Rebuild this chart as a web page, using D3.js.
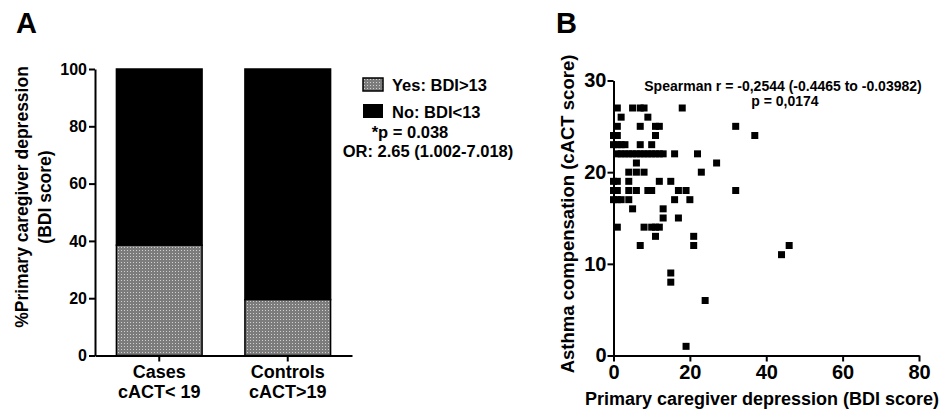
<!DOCTYPE html>
<html>
<head>
<meta charset="utf-8">
<script src="https://cdn.jsdelivr.net/npm/d3@7"></script>
<style>
  body { margin: 0; background: #fff; }
  svg { display: block; font-family: "Liberation Sans", Arial, sans-serif; font-weight: bold; }
  .axis path, .axis line { stroke: #000; stroke-width: 2; }
  .axis text { fill: #000; font-weight: bold; font-family: "Liberation Sans", Arial, sans-serif; }
</style>
</head>
<body>
<svg width="944" height="413"></svg>
<script>
// Panel A data
const groups = ["Cases", "Controls"];
const groupSub = ["cACT< 19", "cACT>19"];
const yesPct = [38.5, 19.5];
const yTicksA = [0, 20, 40, 60, 80, 100];

// Panel B data (BDI score, cACT score)
const bdi = [
  1, 5, 7, 8, 18,
  2, 9,
  1, 7, 11, 12, 32,
  0, 1, 11, 37,
  0, 1, 2, 3, 7, 10,
  1, 2, 3, 4, 5, 6, 7, 8, 9, 10, 11, 12, 13, 16, 22,
  6, 27,
  4, 6, 8, 23,
  0, 1, 4, 12, 15,
  0, 1, 4, 6, 9, 10, 17, 19, 32,
  0, 1, 2, 4, 16, 20,
  5, 13,
  13, 17,
  1, 8, 10, 11, 12,
  11, 21,
  7, 21, 46,
  44,
  15,
  15,
  24,
  19
];
const cact = [
  27, 27, 27, 27, 27,
  26, 26,
  25, 25, 25, 25, 25,
  24, 24, 24, 24,
  23, 23, 23, 23, 23, 23,
  22, 22, 22, 22, 22, 22, 22, 22, 22, 22, 22, 22, 22, 22, 22,
  21, 21,
  20, 20, 20, 20,
  19, 19, 19, 19, 19,
  18, 18, 18, 18, 18, 18, 18, 18, 18,
  17, 17, 17, 17, 17, 17,
  16, 16,
  15, 15,
  14, 14, 14, 14, 14,
  13, 13,
  12, 12, 12,
  11,
  9,
  8,
  6,
  1
];
const xTicksB = [0, 20, 40, 60, 80];
const yTicksB = [0, 10, 20, 30];

const svg = d3.select("svg");

// pattern for "Yes" fill
const defs = svg.append("defs");
const pat = defs.append("pattern")
    .attr("id", "dots")
    .attr("width", 3).attr("height", 3)
    .attr("patternUnits", "userSpaceOnUse");
pat.append("rect").attr("width", 3).attr("height", 3).attr("fill", "#7c7c7c");
pat.append("rect").attr("x", 1).attr("y", 1).attr("width", 1).attr("height", 1).attr("fill", "#d0d0d0");

// ---------- Panel A ----------
const gA = svg.append("g");

gA.append("text")
    .attr("x", 16).attr("y", 33)
    .style("font-size", "29px")
    .text("A");

const yA = d3.scaleLinear().domain([0, 100]).range([355.5, 69]);
const xA = d3.scaleBand()
    .domain(groups)
    .range([95, 352])
    .paddingInner(1 / 3)
    .paddingOuter(1 / 6);

// stacked bars
groups.forEach((g, i) => {
    gA.append("rect")
        .attr("x", xA(g))
        .attr("y", yA(100))
        .attr("width", xA.bandwidth())
        .attr("height", yA(yesPct[i]) - yA(100))
        .attr("fill", "#000")
        .attr("stroke", "#000")
        .attr("stroke-width", 1.5);
    gA.append("rect")
        .attr("x", xA(g))
        .attr("y", yA(yesPct[i]))
        .attr("width", xA.bandwidth())
        .attr("height", yA(0) - yA(yesPct[i]))
        .attr("fill", "url(#dots)")
        .attr("stroke", "#000")
        .attr("stroke-width", 1.5);
});

// axes
gA.append("g")
    .attr("class", "axis")
    .attr("transform", "translate(95,0)")
    .call(d3.axisLeft(yA).tickValues(yTicksA).tickSize(6).tickSizeOuter(0).tickPadding(2))
    .selectAll("text").style("font-size", "16px");

gA.append("g")
    .attr("class", "axis")
    .attr("transform", `translate(0,${yA(0)})`)
    .call(d3.axisBottom(xA).tickSize(6).tickSizeOuter(0).tickFormat(""));

groups.forEach((g, i) => {
    const cx = xA(g) + xA.bandwidth() / 2;
    gA.append("text")
        .attr("x", cx).attr("y", 378)
        .attr("text-anchor", "middle")
        .style("font-size", "18px")
        .text(g);
    gA.append("text")
        .attr("x", cx).attr("y", 398)
        .attr("text-anchor", "middle")
        .style("font-size", "18px")
        .text(groupSub[i]);
});

// y title
gA.append("text")
    .attr("transform", "translate(28,197) rotate(-90)")
    .attr("text-anchor", "middle")
    .style("font-size", "17.5px")
    .text("%Primary caregiver depression");
gA.append("text")
    .attr("transform", "translate(51,197) rotate(-90)")
    .attr("text-anchor", "middle")
    .style("font-size", "17.5px")
    .text("(BDI score)");

// legend
gA.append("rect")
    .attr("x", 363).attr("y", 78).attr("width", 20).attr("height", 13)
    .attr("fill", "url(#dots)").attr("stroke", "#000").attr("stroke-width", 1.5);
gA.append("text")
    .attr("x", 392).attr("y", 91)
    .style("font-size", "16.5px")
    .text("Yes: BDI>13");
gA.append("rect")
    .attr("x", 363).attr("y", 104).attr("width", 20).attr("height", 14)
    .attr("fill", "#000");
gA.append("text")
    .attr("x", 392).attr("y", 118)
    .style("font-size", "16.5px")
    .text("No: BDI<13");
gA.append("text")
    .attr("x", 410).attr("y", 138)
    .attr("text-anchor", "middle")
    .style("font-size", "16.5px")
    .text("*p = 0.038");
gA.append("text")
    .attr("x", 428).attr("y", 157)
    .attr("text-anchor", "middle")
    .style("font-size", "16.5px")
    .text("OR: 2.65 (1.002-7.018)");

// ---------- Panel B ----------
const gB = svg.append("g");

gB.append("text")
    .attr("x", 556).attr("y", 33)
    .style("font-size", "29px")
    .text("B");

const xB = d3.scaleLinear().domain([0, 80]).range([613.5, 919]);
const yB = d3.scaleLinear().domain([0, 30]).range([355.5, 80.5]);

gB.append("g")
    .attr("class", "axis")
    .attr("transform", `translate(0,${yB(0)})`)
    .call(d3.axisBottom(xB).tickValues(xTicksB).tickSize(6).tickSizeOuter(0).tickPadding(3))
    .selectAll("text").style("font-size", "20px");

gB.append("g")
    .attr("class", "axis")
    .attr("transform", `translate(${xB(0)},0)`)
    .call(d3.axisLeft(yB).tickValues(yTicksB).tickSize(6).tickSizeOuter(0).tickPadding(1))
    .selectAll("text").style("font-size", "20px");

gB.selectAll(".pt")
    .data(bdi.map((b, i) => ({ x: b, y: cact[i] })))
    .enter()
    .append("rect")
    .attr("class", "pt")
    .attr("x", d => xB(d.x) - 3.5)
    .attr("y", d => yB(d.y) - 3.5)
    .attr("width", 7)
    .attr("height", 7)
    .attr("fill", "#000");

gB.append("text")
    .attr("x", 783).attr("y", 91)
    .attr("text-anchor", "middle")
    .style("font-size", "14px")
    .text("Spearman r = -0,2544 (-0.4465 to -0.03982)");
gB.append("text")
    .attr("x", 785).attr("y", 106)
    .attr("text-anchor", "middle")
    .style("font-size", "14px")
    .text("p = 0,0174");

gB.append("text")
    .attr("x", 762).attr("y", 405)
    .attr("text-anchor", "middle")
    .style("font-size", "18px")
    .text("Primary caregiver depression (BDI score)");

gB.append("text")
    .attr("transform", "translate(574,214) rotate(-90)")
    .attr("text-anchor", "middle")
    .style("font-size", "18.5px")
    .text("Asthma compensation (cACT score)");
</script>
</body>
</html>
